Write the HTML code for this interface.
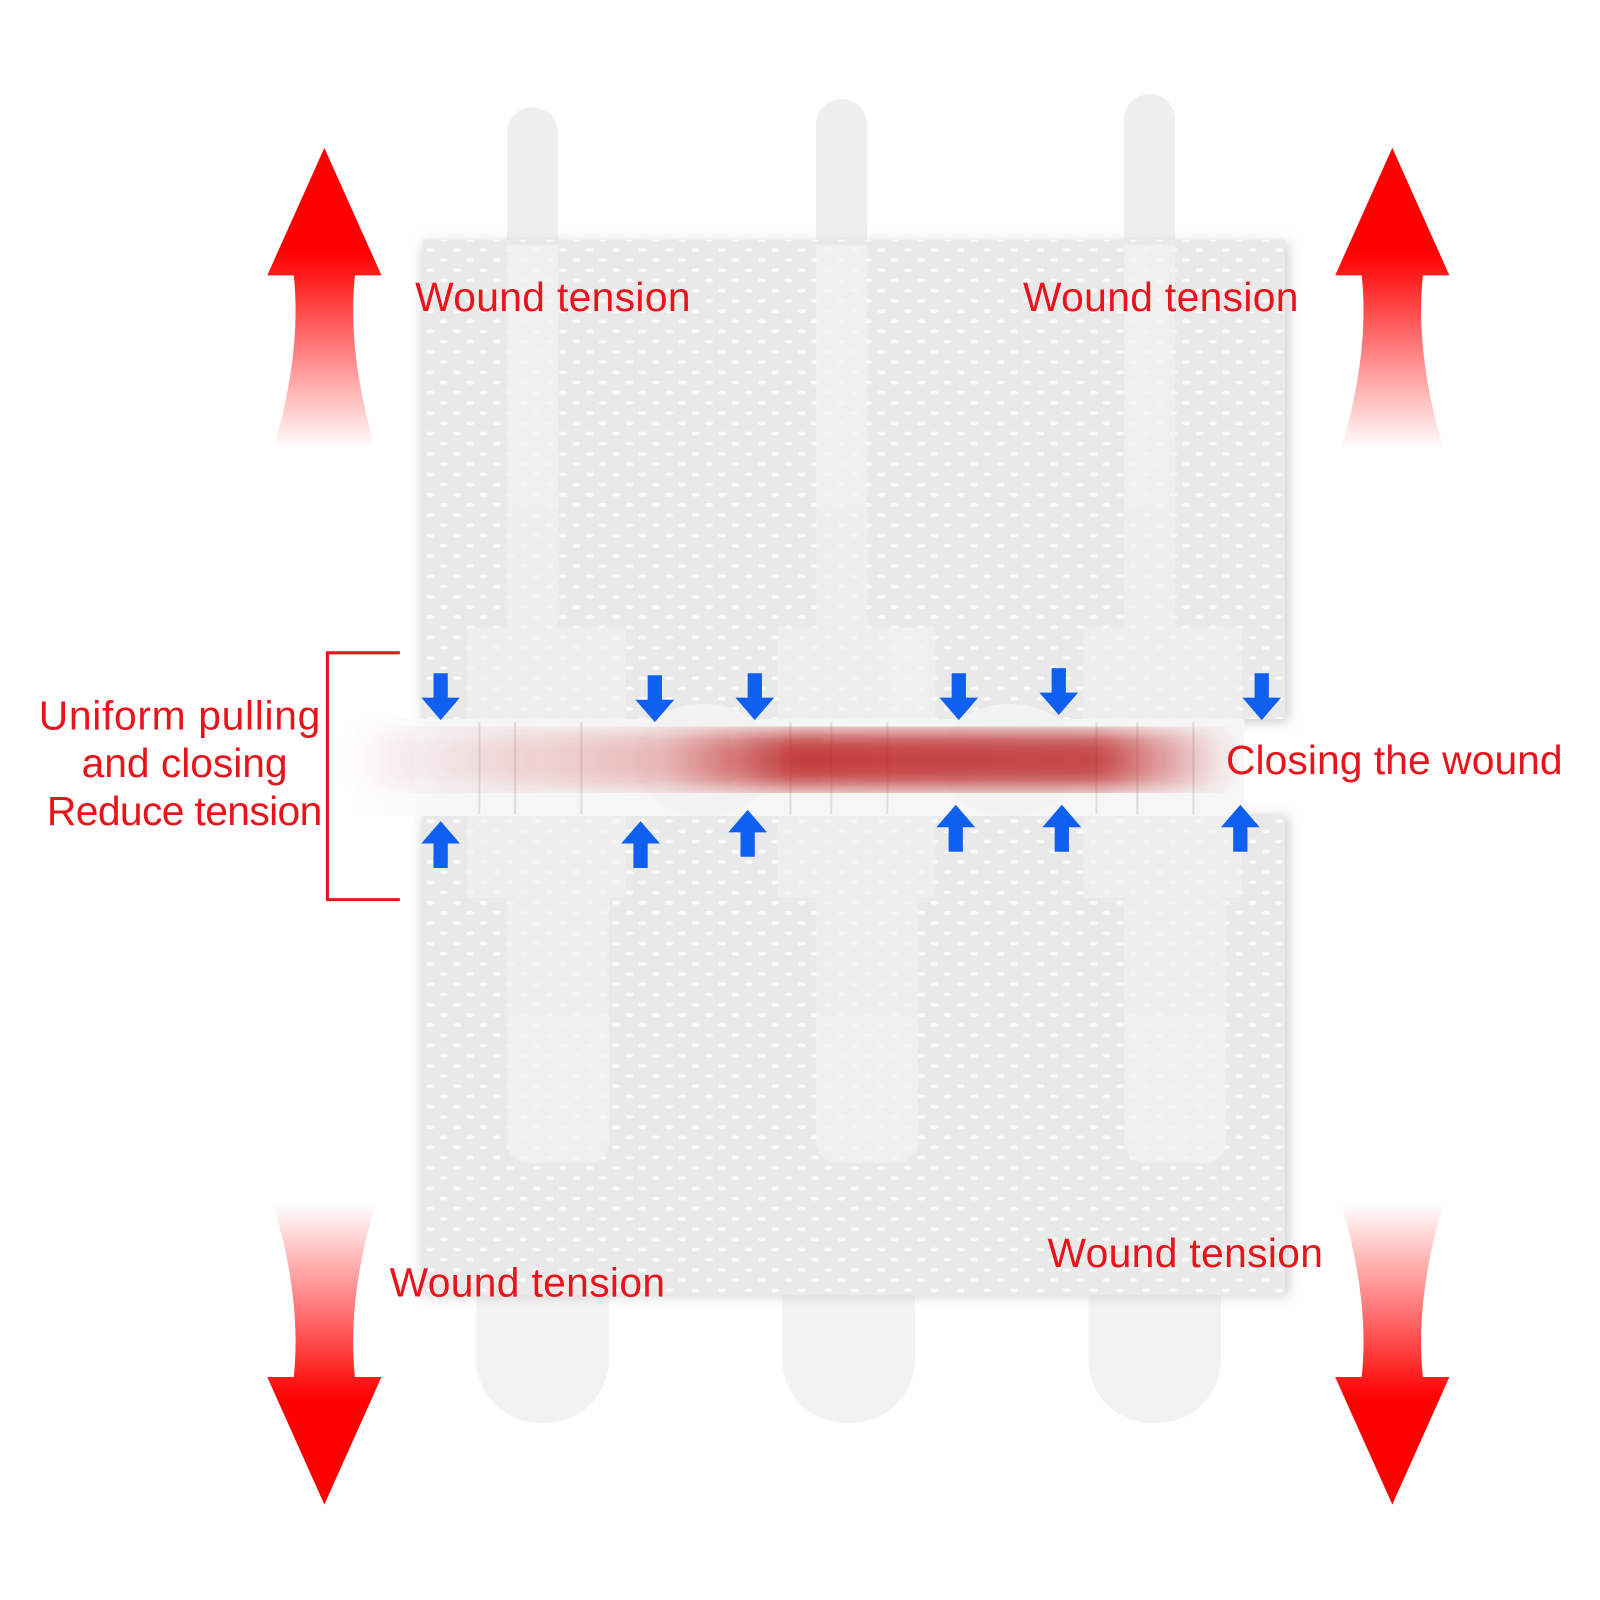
<!DOCTYPE html><html><head><style>body{margin:0;background:#fff}svg{display:block}</style></head><body>
<svg width="1600" height="1600" viewBox="0 0 1600 1600" xmlns="http://www.w3.org/2000/svg" font-family="Liberation Sans, sans-serif">
<defs>
<pattern id="tex" width="26" height="20" patternUnits="userSpaceOnUse"><rect width="26" height="20" fill="#e9e9e9"/><ellipse cx="6" cy="5" rx="4" ry="2" fill="#fafafa"/><ellipse cx="19" cy="15" rx="4" ry="2" fill="#fafafa"/></pattern>
<linearGradient id="gu" x1="0" y1="0" x2="0" y2="1"><stop offset="0.35" stop-color="#f00"/><stop offset="1" stop-color="#f00" stop-opacity="0"/></linearGradient>
<linearGradient id="wound" x1="0" y1="0" x2="1" y2="0"><stop offset="0" stop-color="#c33" stop-opacity="0"/><stop offset="0.35" stop-color="#c33" stop-opacity="0.3"/><stop offset="0.5" stop-color="#b22" stop-opacity="0.85"/><stop offset="0.85" stop-color="#b22" stop-opacity="0.8"/><stop offset="1" stop-color="#c33" stop-opacity="0"/></linearGradient>
<linearGradient id="gapfade" x1="0" y1="0" x2="1" y2="0"><stop offset="0" stop-color="#fff"/><stop offset="0.12" stop-color="#f6f6f6"/><stop offset="1" stop-color="#f6f6f6"/></linearGradient>
<filter id="bl"><feGaussianBlur stdDeviation="10"/></filter>
<filter id="sh"><feGaussianBlur stdDeviation="6"/></filter>
<path id="ad" d="M-7 0h14v24h12l-19 22l-19-22h12z" fill="#1060f0"/>
<path id="up" d="M0 0L56 125H30Q22 200 50 295H-50Q-22 200 -30 125H-56Z"/>
</defs>
<g transform="scale(1.02)">
<g fill="#efefef"><rect x="497" y="105" width="50" height="200" rx="25"/><rect x="800" y="97" width="50" height="200" rx="25"/><rect x="1102" y="92" width="50" height="200" rx="25"/></g>
<g fill="#f2f2f2"><rect x="467" y="1200" width="130" height="195" rx="62"/><rect x="767" y="1200" width="130" height="195" rx="62"/><rect x="1067" y="1200" width="130" height="195" rx="62"/></g>
<rect x="415" y="238" width="848" height="470" fill="#ccc" filter="url(#sh)"/>
<rect x="415" y="235" width="845" height="470" fill="url(#tex)"/>
<rect x="415" y="800" width="848" height="470" fill="#ccc" filter="url(#sh)"/>
<rect x="415" y="800" width="845" height="470" fill="url(#tex)"/>
<rect x="340" y="705" width="880" height="95" fill="url(#gapfade)"/>
<ellipse cx="690" cy="745" rx="70" ry="55" fill="#f3f3f3"/><ellipse cx="990" cy="745" rx="70" ry="55" fill="#f3f3f3"/>
<g stroke="#ddd" stroke-width="2"><line x1="470" y1="708" x2="470" y2="798"/><line x1="505" y1="708" x2="505" y2="798"/><line x1="570" y1="708" x2="570" y2="798"/><line x1="775" y1="708" x2="775" y2="798"/><line x1="815" y1="708" x2="815" y2="798"/><line x1="870" y1="708" x2="870" y2="798"/><line x1="1075" y1="708" x2="1075" y2="798"/><line x1="1115" y1="708" x2="1115" y2="798"/><line x1="1170" y1="708" x2="1170" y2="798"/></g>
<rect x="340" y="718" width="870" height="54" fill="url(#wound)" filter="url(#bl)"/>
<g fill="#f2f2f2" opacity="0.75"><rect x="497" y="240" width="50" height="390"/><rect x="800" y="240" width="50" height="390"/><rect x="1102" y="240" width="50" height="390"/>
<rect x="458" y="615" width="155" height="90"/><rect x="762" y="615" width="155" height="90"/><rect x="1062" y="615" width="155" height="90"/>
<rect x="458" y="800" width="155" height="80"/><rect x="762" y="800" width="155" height="80"/><rect x="1062" y="800" width="155" height="80"/>
<rect x="497" y="860" width="100" height="280" rx="20"/><rect x="800" y="860" width="100" height="280" rx="20"/><rect x="1102" y="860" width="100" height="280" rx="20"/></g>
<use href="#up" x="318" y="145" fill="url(#gu)"/>
<use href="#up" x="1365" y="145" fill="url(#gu)"/>
<use href="#up" transform="translate(318 1475) scale(1 -1)" fill="url(#gu)"/>
<use href="#up" transform="translate(1365 1475) scale(1 -1)" fill="url(#gu)"/>
<use href="#ad" x="432" y="660"/><use href="#ad" x="642" y="662"/><use href="#ad" x="740" y="660"/><use href="#ad" x="940" y="660"/><use href="#ad" x="1038" y="655"/><use href="#ad" x="1237" y="660"/>
<g transform="scale(1 -1)"><use href="#ad" x="432" y="-851"/><use href="#ad" x="628" y="-851"/><use href="#ad" x="733" y="-840"/><use href="#ad" x="937" y="-835"/><use href="#ad" x="1041" y="-835"/><use href="#ad" x="1216" y="-835"/></g>
<path d="M392 640H321V882H392" fill="none" stroke="#e8141b" stroke-width="3"/>
<g fill="#e8141b" font-size="40">
<text x="407" y="305" textLength="270">Wound tension</text>
<text x="1003" y="305" textLength="270">Wound tension</text>
<text x="382" y="1271" textLength="270">Wound tension</text>
<text x="1027" y="1242" textLength="270">Wound tension</text>
<text x="1202" y="759" textLength="330">Closing the wound</text>
<text x="38" y="715" textLength="276">Uniform pulling</text>
<text x="80" y="762" textLength="202">and closing</text>
<text x="46" y="809" textLength="270">Reduce tension</text>
</g>
</g>
</svg></body></html>
